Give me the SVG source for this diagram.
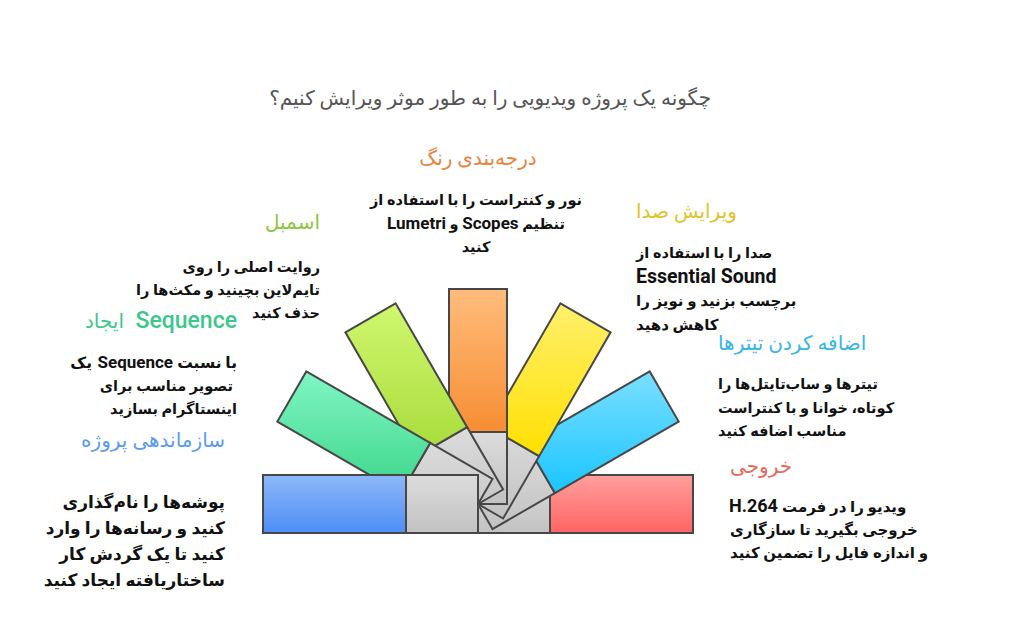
<svg xmlns="http://www.w3.org/2000/svg" width="1024" height="640" viewBox="0 0 1024 640">
<defs>
<linearGradient id="gGrey" x1="0" y1="0" x2="0" y2="1"><stop offset="0" stop-color="#DCDCDC"/><stop offset="1" stop-color="#C2C2C2"/></linearGradient>
<linearGradient id="gBlue" x1="0" y1="0" x2="0" y2="1"><stop offset="0" stop-color="#8DB8F9"/><stop offset="1" stop-color="#4E8EF6"/></linearGradient>
<linearGradient id="gRed" x1="0" y1="0" x2="0" y2="1"><stop offset="0" stop-color="#FF9F9D"/><stop offset="1" stop-color="#FF6462"/></linearGradient>
<linearGradient id="gOrange" x1="0" y1="0" x2="0" y2="1"><stop offset="0" stop-color="#FFBC7C"/><stop offset="1" stop-color="#F68E33"/></linearGradient>
<linearGradient id="gYellow" x1="0" y1="0" x2="0" y2="1"><stop offset="0" stop-color="#FFF06C"/><stop offset="1" stop-color="#FFE000"/></linearGradient>
<linearGradient id="gCyan" x1="0" y1="0" x2="0" y2="1"><stop offset="0" stop-color="#7BDFFF"/><stop offset="1" stop-color="#1AC5FF"/></linearGradient>
<linearGradient id="gGreen" x1="0" y1="0" x2="0" y2="1"><stop offset="0" stop-color="#80F6C5"/><stop offset="1" stop-color="#3DD58A"/></linearGradient>
<linearGradient id="gLime" x1="0" y1="0" x2="0" y2="1"><stop offset="0" stop-color="#D0F76F"/><stop offset="1" stop-color="#A7DB3A"/></linearGradient>
</defs>
<style>
.blade { stroke: #474747; stroke-width: 2; stroke-linejoin: miter; }
.grey { fill: url(#gGrey); }
.rtl { direction: rtl; unicode-bidi: embed; }
.t { font-family: Roboto, "DejaVu Sans", sans-serif; font-size: 20px; fill: #555555; }
.h { font-family: Roboto, "DejaVu Sans", sans-serif; font-size: 20px; }
.d { font-family: Roboto, "DejaVu Sans", sans-serif; font-size: 14.5px; font-weight: bold; fill: #111111; }
.dl { font-family: Roboto, "DejaVu Sans", sans-serif; font-size: 17px; font-weight: bold; fill: #111111; }
.lat { font-family: Roboto, "Liberation Sans", sans-serif; font-size: 17px; font-weight: bold; fill: #111111; }
</style>
<rect width="1024" height="640" fill="#FFFFFF"/>
<text class="t rtl" x="711" y="105" text-anchor="start">چگونه یک پروژه ویدیویی را به طور موثر ویرایش کنیم؟</text>

<g id="connectors"></g>

<g id="node-export">
<polygon class="blade grey" points="478,475 550,475 550,533 478,533"/>
<polygon class="blade" fill="url(#gRed)" points="550,475 693,475 693,533 550,533"/>
<text class="h rtl" x="730" y="473" text-anchor="end" fill="#E8675B">خروجی</text>
<text class="lat" x="729" y="512" style="font-size:18px">H.264</text>
<text class="d rtl" x="782" y="512" text-anchor="end" style="font-size:15px">ویدیو را در فرمت</text>
<text class="d rtl" x="730" y="535" text-anchor="end" style="font-size:15px">خروجی بگیرید تا سازگاری</text>
<text class="d rtl" x="730" y="558" text-anchor="end" style="font-size:15px">و اندازه فایل را تضمین کنید</text>
</g>

<g id="node-titles">
<polygon class="blade grey" points="492.5,529.11 463.5,478.89 525.85,442.89 554.85,493.11"/>
<polygon class="blade" fill="url(#gCyan)" points="554.85,493.11 525.85,442.89 649.69,371.39 678.69,421.61"/>
<text class="h rtl" x="718" y="350" text-anchor="end" fill="#3AB5E6">اضافه کردن تیترها</text>
<text class="d rtl" x="718" y="389" text-anchor="end">تیترها و ساب‌تایتل‌ها را</text>
<text class="d rtl" x="718" y="413" text-anchor="end">کوتاه، خوانا و با کنتراست</text>
<text class="d rtl" x="718" y="436" text-anchor="end">مناسب اضافه کنید</text>
</g>

<g id="node-audio">
<polygon class="blade grey" points="503.11,518.5 452.89,489.5 488.89,427.15 539.11,456.15"/>
<polygon class="blade" fill="url(#gYellow)" points="539.11,456.15 488.89,427.15 560.39,303.31 610.61,332.31"/>
<text class="h rtl" x="636" y="218" text-anchor="end" fill="#DEC42A">ویرایش صدا</text>
<text class="d rtl" x="636" y="258" text-anchor="end">صدا را با استفاده از</text>
<text class="lat" x="636" y="283" style="font-size:19.5px">Essential Sound</text>
<text class="d rtl" x="636" y="306" text-anchor="end" style="font-size:15px">برچسب بزنید و نویز را</text>
<text class="d rtl" x="636" y="330" text-anchor="end" style="font-size:15px">کاهش دهید</text>
</g>

<g id="node-color">
<polygon class="blade grey" points="449,504 507,504 507,432 449,432"/>
<polygon class="blade" fill="url(#gOrange)" points="449,432 507,432 507,289 449,289"/>
<text class="h rtl" x="478" y="165" text-anchor="middle" fill="#E8843C">درجه‌بندی رنگ</text>
<text class="d rtl" x="476" y="205" text-anchor="middle">نور و کنتراست را با استفاده از</text>
<text class="d rtl" x="476" y="229" text-anchor="middle">تنظیم <tspan class="lat">Scopes</tspan> و <tspan class="lat">Lumetri</tspan></text>
<text class="d rtl" x="476" y="252" text-anchor="middle">کنید</text>
</g>

<g id="node-assemble">
<polygon class="blade grey" points="503.11,489.5 452.89,518.5 416.89,456.15 467.11,427.15"/>
<polygon class="blade" fill="url(#gLime)" points="467.11,427.15 416.89,456.15 345.39,332.31 395.61,303.31"/>
<text class="h rtl" x="320" y="229" text-anchor="start" fill="#8CC63F">اسمبل</text>
<text class="d rtl" x="320" y="272" text-anchor="start">روایت اصلی را روی</text>
<text class="d rtl" x="320" y="295" text-anchor="start">تایم‌لاین بچینید و مکث‌ها را</text>
<text class="d rtl" x="320" y="318" text-anchor="start">حذف کنید</text>
</g>

<g id="node-sequence">
<polygon class="blade grey" points="492.5,478.89 463.5,529.11 401.15,493.11 430.15,442.89"/>
<polygon class="blade" fill="url(#gGreen)" points="430.15,442.89 401.15,493.11 277.31,421.61 306.31,371.39"/>
<text x="237" y="328" text-anchor="end" font-family="Roboto, 'Liberation Sans', sans-serif" font-size="23" font-weight="500" fill="#3CC88A">Sequence</text>
<text class="h rtl" x="124" y="328" text-anchor="start" fill="#3CC88A">ایجاد</text>
<text class="d rtl" x="237" y="368" text-anchor="start" style="font-size:15.5px">با نسبت</text>
<text class="lat" x="173" y="368" text-anchor="end">Sequence</text>
<text class="d rtl" x="92" y="368" text-anchor="start" style="font-size:15.5px">یک</text>
<text class="d rtl" x="233" y="391" text-anchor="start">تصویر مناسب برای</text>
<text class="d rtl" x="237" y="414" text-anchor="start">اینستاگرام بسازید</text>
</g>

<g id="node-organize">
<polygon class="blade grey" points="478,475 478,533 406,533 406,475"/>
<polygon class="blade" fill="url(#gBlue)" points="406,475 406,533 263,533 263,475"/>
<text class="h rtl" x="225" y="447" text-anchor="start" fill="#5B9BF0">سازماندهی پروژه</text>
<text class="dl rtl" x="225" y="508" text-anchor="start">پوشه‌ها را نام‌گذاری</text>
<text class="dl rtl" x="225" y="534" text-anchor="start">کنید و رسانه‌ها را وارد</text>
<text class="dl rtl" x="225" y="560" text-anchor="start">کنید تا یک گردش کار</text>
<text class="dl rtl" x="225" y="586" text-anchor="start">ساختاریافته ایجاد کنید</text>
</g>
</svg>
